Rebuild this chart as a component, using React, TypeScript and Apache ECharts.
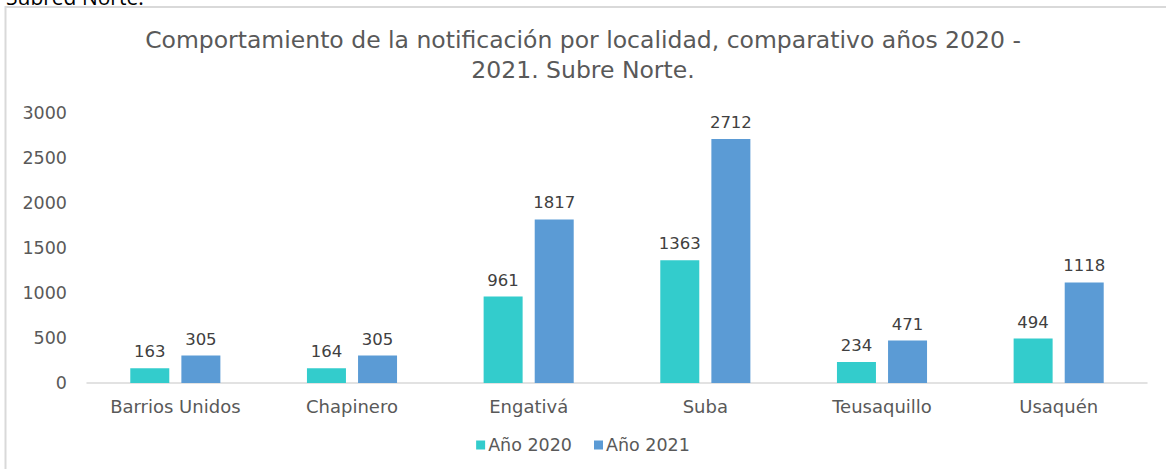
import React, { useEffect, useRef } from "react";
import * as echarts from "echarts";

const categories = ["Barrios Unidos", "Chapinero", "Engativá", "Suba", "Teusaquillo", "Usaquén"];
const values2020 = [163, 164, 961, 1363, 234, 494];
const values2021 = [305, 305, 1817, 2712, 471, 1118];
const seriesNames = ["Año 2020", "Año 2021"];
const titleText = "Comportamiento de la notificación por localidad, comparativo años 2020 -\n2021. Subre Norte.";
const headerText = "Subred Norte.";

const FONT = "'DejaVu Sans', 'Noto Sans', sans-serif";

export default function App() {
  const ref = useRef<HTMLDivElement>(null);
  useEffect(() => {
    if (!ref.current) return;
    const chart = echarts.init(ref.current, null, { renderer: "svg" });
    const labelStyle = {
      show: true,
      position: "top" as const,
      distance: 8,
      color: "#404040",
      fontSize: 16.5,
      fontFamily: FONT,
    };
    chart.setOption({
      animation: false,
      backgroundColor: "#ffffff",
      textStyle: { fontFamily: FONT },
      title: {
        text: titleText,
        left: "center",
        top: 20,
        textStyle: {
          color: "#595959",
          fontSize: 23.5,
          fontWeight: "normal",
          fontFamily: FONT,
          lineHeight: 30,
        },
      },
      legend: {
        data: seriesNames,
        bottom: 10,
        left: "center",
        itemWidth: 9,
        itemHeight: 9,
        itemGap: 22,
        icon: "rect",
        textStyle: { color: "#595959", fontSize: 17.5, fontFamily: FONT, padding: [0, 0, 0, -2] },
      },
      grid: { left: 87, right: 19, top: 113, bottom: 86, containLabel: false },
      xAxis: {
        type: "category",
        data: categories,
        axisLine: { show: true, lineStyle: { color: "#d9d9d9", width: 1.5 } },
        axisTick: { show: false },
        axisLabel: { color: "#595959", fontSize: 18, fontFamily: FONT, margin: 14 },
      },
      yAxis: {
        type: "value",
        min: 0,
        max: 3000,
        interval: 500,
        axisLine: { show: false },
        axisTick: { show: false },
        splitLine: { show: false },
        axisLabel: {
          color: "#595959",
          fontSize: 17.5,
          fontFamily: FONT,
          margin: 20,
          formatter: (v: number) => String(v),
        },
      },
      series: [
        {
          name: seriesNames[0],
          type: "bar",
          data: values2020,
          barWidth: 39,
          barGap: "31%",
          itemStyle: { color: "#33CCCC" },
          label: labelStyle,
        },
        {
          name: seriesNames[1],
          type: "bar",
          data: values2021,
          barWidth: 39,
          itemStyle: { color: "#5B9BD5" },
          label: labelStyle,
        },
      ],
      graphic: [
        {
          type: "rect",
          shape: { x: 5.5, y: 7, width: 1300, height: 600 },
          style: { fill: "none", stroke: "#d9d9d9", lineWidth: 2 },
          silent: true,
        },
        {
          type: "text",
          x: 6,
          y: 7,
          style: {
            text: headerText,
            fill: "#000000",
            fontSize: 21,
            fontFamily: "'Open Sans', sans-serif",
            verticalAlign: "bottom",
          },
          silent: true,
        },
      ],
    });
    return () => chart.dispose();
  }, []);
  return (
    <div
      ref={ref}
      style={{ position: "fixed", left: 0, top: 0, width: 1166, height: 469 }}
    />
  );
}
